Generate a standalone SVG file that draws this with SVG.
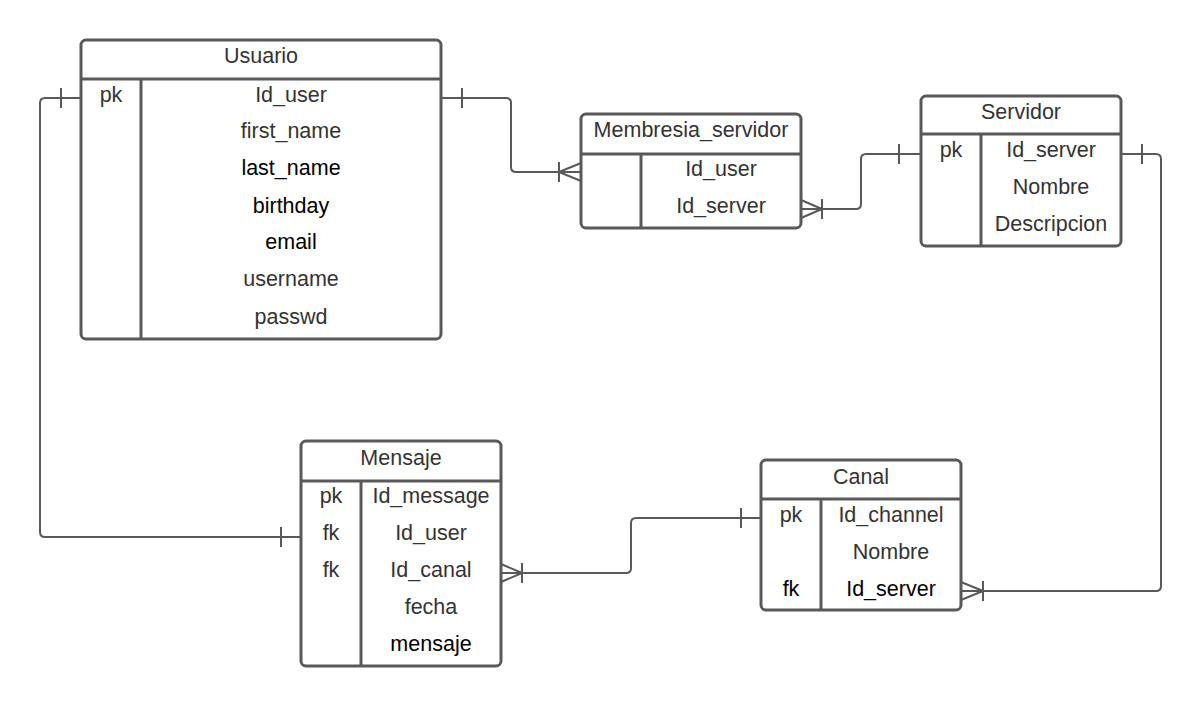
<svg xmlns="http://www.w3.org/2000/svg" width="1203" height="707" viewBox="0 0 1203 707">
<style>
.box{fill:#fff;stroke:#595959;stroke-width:3}
.ln{stroke:#595959;stroke-width:3;fill:none}
.cn{stroke:#595959;stroke-width:2;fill:none}
text{font-family:"Liberation Sans",Arial,sans-serif;font-size:21.5px;fill:#333;text-anchor:middle;dominant-baseline:central}
.k{fill:#000}
</style>
<rect width="1203" height="707" fill="#fff"/>
<g id="connectors">
<path class="cn" d="M441,98 H506 Q511,98 511,103 V167 Q511,172 516,172 H581"/>
<path class="cn" d="M462,88 V108 M559,162 V182 M559,172 L581,163 M559,172 L581,181"/>
<path class="cn" d="M801,209 H856 Q861,209 861,204 V159 Q861,154 866,154 H921"/>
<path class="cn" d="M822,199 V219 M822,209 L801,200 M822,209 L801,218 M899,144 V164"/>
<path class="cn" d="M1121,154 H1156 Q1161,154 1161,159 V586 Q1161,591 1156,591 H961"/>
<path class="cn" d="M1142,144 V164 M983,581 V601 M983,591 L961,582 M983,591 L961,600"/>
<path class="cn" d="M501,573 H626 Q631,573 631,568 V523 Q631,518 636,518 H761"/>
<path class="cn" d="M522,563 V583 M522,573 L501,564 M522,573 L501,582 M741,508 V528"/>
<path class="cn" d="M81,98 H45 Q40,98 40,103 V532 Q40,537 45,537 H301"/>
<path class="cn" d="M61,88 V108 M281,527 V547"/>
</g>
<g id="usuario">
<rect class="box" x="81" y="40" width="360" height="299" rx="5"/>
<path class="ln" d="M81,79 H441 M141,79 V339"/>
<text x="261" y="56">Usuario</text>
<text x="111" y="95">pk</text>
<text x="291" y="95">Id_user</text>
<text x="291" y="131">first_name</text>
<text x="291" y="168" class="k">last_name</text>
<text x="291" y="206" class="k">birthday</text>
<text x="291" y="242" class="k">email</text>
<text x="291" y="279">username</text>
<text x="291" y="317">passwd</text>
</g>
<g id="membresia_servidor">
<rect class="box" x="581" y="114" width="220" height="114" rx="5"/>
<path class="ln" d="M581,154 H801 M641,154 V228"/>
<text x="691" y="130">Membresia_servidor</text>
<text x="721" y="169">Id_user</text>
<text x="721" y="206">Id_server</text>
</g>
<g id="servidor">
<rect class="box" x="921" y="96" width="200" height="150" rx="5"/>
<path class="ln" d="M921,134 H1121 M981,134 V246"/>
<text x="1021" y="112">Servidor</text>
<text x="951" y="150">pk</text>
<text x="1051" y="150">Id_server</text>
<text x="1051" y="187">Nombre</text>
<text x="1051" y="224">Descripcion</text>
</g>
<g id="mensaje">
<rect class="box" x="301" y="441" width="200" height="225" rx="5"/>
<path class="ln" d="M301,481 H501 M361,481 V666"/>
<text x="401" y="458">Mensaje</text>
<text x="331" y="496">pk</text>
<text x="431" y="496">Id_message</text>
<text x="331" y="533">fk</text>
<text x="431" y="533">Id_user</text>
<text x="331" y="570">fk</text>
<text x="431" y="570">Id_canal</text>
<text x="431" y="607">fecha</text>
<text x="431" y="644" class="k">mensaje</text>
</g>
<g id="canal">
<rect class="box" x="761" y="460" width="200" height="150" rx="5"/>
<path class="ln" d="M761,499 H961 M821,499 V610"/>
<text x="861" y="477">Canal</text>
<text x="791" y="515">pk</text>
<text x="891" y="515">Id_channel</text>
<text x="891" y="552">Nombre</text>
<text x="791" y="589" class="k">fk</text>
<text x="891" y="589" class="k">Id_server</text>
</g>
</svg>
